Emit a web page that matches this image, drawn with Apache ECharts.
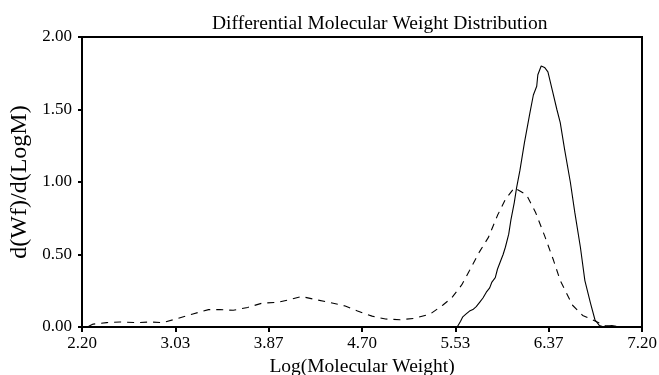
<!DOCTYPE html>
<html>
<head>
<meta charset="utf-8">
<script src="https://cdn.jsdelivr.net/npm/echarts@6/dist/echarts.min.js"></script>
<style>
  html, body { margin: 0; padding: 0; background: #fff; }
  #chart { width: 659px; height: 375px; }
</style>
</head>
<body>
<div id="chart"></div>
<script>
// tick positions on the x axis (2.20 + k * 5/6)
const xTicks = [2.2, 3.0333333, 3.8666667, 4.7, 5.5333333, 6.3666667, 7.2];

// dashed curve
const dashX = [2.26, 2.30, 2.42, 2.54, 2.69, 2.81, 2.92, 3.06, 3.19, 3.33, 3.43, 3.55, 3.68, 3.81, 3.95,
  4.06, 4.16, 4.28, 4.41, 4.55, 4.66, 4.79, 4.91, 5.04, 5.17, 5.31, 5.42, 5.50, 5.59, 5.66, 5.75,
  5.83, 5.91, 5.98, 6.06, 6.17, 6.25, 6.33, 6.41, 6.47, 6.58, 6.67, 6.80, 6.87, 6.95, 7.09];
const dashY = [0.005, 0.02, 0.03, 0.035, 0.03, 0.035, 0.03, 0.06, 0.09, 0.12, 0.12, 0.115, 0.135, 0.165, 0.17,
  0.19, 0.21, 0.19, 0.17, 0.145, 0.11, 0.075, 0.055, 0.05, 0.06, 0.09, 0.15, 0.20, 0.29, 0.39, 0.52,
  0.62, 0.77, 0.88, 0.96, 0.91, 0.79, 0.63, 0.46, 0.32, 0.15, 0.08, 0.035, 0.01, 0.004, 0.002];

// solid curve
const solidX = [5.55, 5.58, 5.60, 5.63, 5.66, 5.69, 5.72, 5.75, 5.78, 5.81, 5.84, 5.86, 5.89, 5.91,
  5.94, 5.96, 5.98, 6.01, 6.03, 6.06, 6.08, 6.11, 6.15, 6.20, 6.23, 6.26, 6.27, 6.30, 6.33, 6.36,
  6.40, 6.44, 6.47, 6.51, 6.56, 6.60, 6.65, 6.69, 6.74, 6.78, 6.82, 6.86, 6.93, 6.97, 7.02];
const solidY = [0.0, 0.04, 0.07, 0.09, 0.11, 0.12, 0.14, 0.17, 0.20, 0.24, 0.27, 0.31, 0.34, 0.40,
  0.46, 0.50, 0.55, 0.64, 0.74, 0.86, 0.96, 1.08, 1.27, 1.48, 1.60, 1.66, 1.74, 1.80, 1.79, 1.76,
  1.63, 1.50, 1.41, 1.22, 1.00, 0.79, 0.55, 0.32, 0.165, 0.05, 0.01, 0.0, 0.01, 0.005, 0.0];

const pairs = (xs, ys) => xs.map((x, i) => [x, ys[i]]);

const serif = "'Liberation Serif', 'DejaVu Serif', serif";

const chart = echarts.init(document.getElementById("chart"));
chart.setOption({
  animation: false,
  backgroundColor: "#fff",
  title: {
    text: "Differential Molecular Weight Distribution",
    left: 207,
    top: 9,
    textStyle: { fontFamily: serif, fontSize: 19.5, fontWeight: "normal", color: "#000" },
  },
  grid: {
    left: 82,
    right: 17,
    top: 37,
    bottom: 48,
    containLabel: false,
    outerBoundsMode: "none",
    show: true,
    borderColor: "#000",
    borderWidth: 2,
  },
  xAxis: {
    type: "value",
    min: 2.2,
    max: 7.2,
    name: "Log(Molecular Weight)",
    nameLocation: "middle",
    nameGap: 29,
    nameTextStyle: { fontFamily: serif, fontSize: 19.5, color: "#000" },
    axisLine: { lineStyle: { color: "#000", width: 2 } },
    axisTick: { customValues: xTicks, length: 5, lineStyle: { color: "#000", width: 2 } },
    axisLabel: {
      customValues: xTicks,
      margin: 8,
      fontFamily: serif,
      fontSize: 17,
      color: "#000",
      formatter: (v) => v.toFixed(2),
    },
    splitLine: { show: false },
  },
  yAxis: {
    type: "value",
    min: 0,
    max: 2,
    interval: 0.5,
    name: "d(Wf)/d(LogM)",
    nameLocation: "middle",
    nameGap: 50,
    nameTextStyle: { fontFamily: serif, fontSize: 24, color: "#000" },
    axisLine: { show: true, lineStyle: { color: "#000", width: 2 } },
    axisTick: { show: true, length: 4, lineStyle: { color: "#000", width: 2 } },
    axisLabel: {
      margin: 10,
      fontFamily: serif,
      fontSize: 17,
      color: "#000",
      formatter: (v) => v.toFixed(2),
    },
    splitLine: { show: false },
  },
  series: [
    {
      type: "line",
      data: pairs(dashX, dashY),
      showSymbol: false,
      lineStyle: { color: "#000", width: 1.1, type: [7, 6] },
    },
    {
      type: "line",
      data: pairs(solidX, solidY),
      showSymbol: false,
      lineStyle: { color: "#000", width: 1.1 },
    },
  ],
});
</script>
</body>
</html>
